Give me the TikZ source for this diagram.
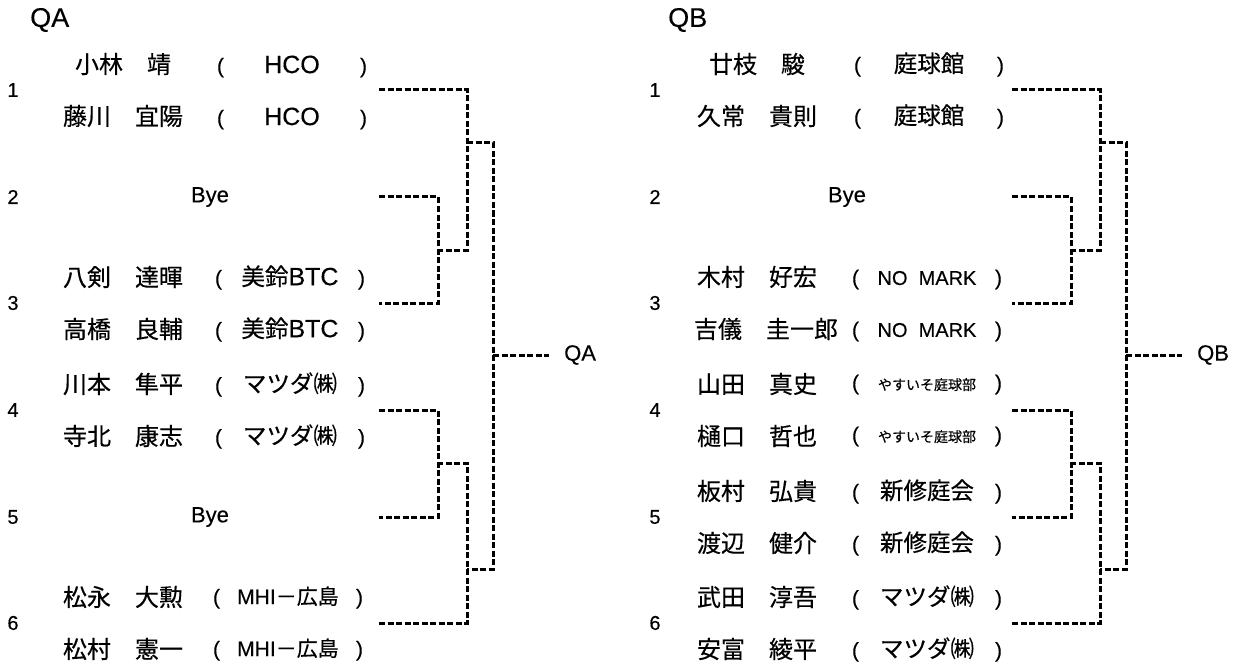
\documentclass[tikz,border=0pt]{standalone}
\usepackage{fontspec}
\setmainfont[FakeBold=0.3]{Liberation Sans}
\newfontfamily\jp[FakeBold=0.4]{Noto Sans CJK JP}
\newcommand\club[2][23.5]{\makebox[150pt][s]{\fontsize{21}{24}\selectfont(\hfill{\fontsize{#1}{26}\selectfont #2}\hfill)}}

\tikzset{
  bracket/.style={line width=3pt, dash pattern=on 6pt off 2.5pt},
  seednum/.style={font=\fontsize{20}{23}\selectfont, inner sep=0pt},
  player/.style={font=\jp\fontsize{24}{27}\selectfont, inner sep=0pt},
  clubbox/.style={inner sep=0pt, yshift=-0.5pt},
  byebox/.style={font=\fontsize{22}{25}\selectfont, inner sep=0pt},
  blocktitle/.style={font=\fontsize{27}{30}\selectfont, anchor=west, inner sep=0pt},
  winner/.style={font=\fontsize{22}{25}\selectfont, anchor=west, inner sep=0pt, inner xsep=15pt}
}

\begin{document}
\begin{tikzpicture}[x=1pt,y=-1pt]
\useasboundingbox (0,0) rectangle (1235,666);

% block QA
\node[blocktitle] (tA) at (30,20) {QA};
\node[seednum] (sA1) at (13,90) {1};
\node[seednum] (sA2) at (13,197) {2};
\node[seednum] (sA3) at (13,303) {3};
\node[seednum] (sA4) at (13,410) {4};
\node[seednum] (sA5) at (13,517) {5};
\node[seednum] (sA6) at (13,623) {6};

\node[player] (pA1a) at (123,64) {小林　靖};
\node[clubbox] (cA1a) at (292,66) {\club[25]{HCO}};
\node[player] (pA1b) at (123,116) {藤川　宜陽};
\node[clubbox] (cA1b) at (292,118) {\club[25]{HCO}};
\node[byebox] (bA2) at (210,197) {Bye};
\node[player] (pA3a) at (123,277) {八剣　達暉};
\node[clubbox] (cA3a) at (290,277) {\club{{\jp 美鈴}\fontsize{25}{26}\selectfont BTC}};
\node[player] (pA3b) at (123,329) {高橋　良輔};
\node[clubbox] (cA3b) at (290,329) {\club{{\jp 美鈴}\fontsize{25}{26}\selectfont BTC}};
\node[player] (pA4a) at (123,384) {川本　隼平};
\node[clubbox] (cA4a) at (290,384) {\club{\jp マツダ㈱}};
\node[player] (pA4b) at (123,436) {寺北　康志};
\node[clubbox] (cA4b) at (290,436) {\club{\jp マツダ㈱}};
\node[byebox] (bA5) at (210,517) {Bye};
\node[player] (pA6a) at (123,597) {松永　大勲};
\node[clubbox] (cA6a) at (288,597) {\club[21]{MHI{\jp －広島}}};
\node[player] (pA6b) at (123,649) {松村　憲一};
\node[clubbox] (cA6b) at (288,649) {\club[21]{MHI{\jp －広島}}};

\coordinate (eA1) at (379,90);
\coordinate (eA2) at (379,197);
\coordinate (eA3) at (379,303);
\coordinate (eA4) at (379,410);
\coordinate (eA5) at (379,517);
\coordinate (eA6) at (379,623);
\coordinate (jA23) at (438,250);
\coordinate (jA45) at (438,463);
\coordinate (jA123) at (467,143);
\coordinate (jA456) at (467,569);
\coordinate (jA) at (493,355);
\node[winner] (wA) at (549,355) {QA};

\draw[bracket] (eA2) -| (jA23) |- (eA3);
\draw[bracket] (eA1) -| (jA123) |- (jA23);
\draw[bracket] (eA4) -| (jA45) |- (eA5);
\draw[bracket] (eA6) -| (jA456) |- (jA45);
\draw[bracket] (jA123) -| (jA) |- (jA456);
\draw[bracket] (jA) -- (wA.west);

% block QB
\node[blocktitle] (tB) at (668,20) {QB};
\node[seednum] (sB1) at (655,90) {1};
\node[seednum] (sB2) at (655,197) {2};
\node[seednum] (sB3) at (655,303) {3};
\node[seednum] (sB4) at (655,410) {4};
\node[seednum] (sB5) at (655,517) {5};
\node[seednum] (sB6) at (655,623) {6};

\node[player] (pB1a) at (757,64) {廿枝　駿};
\node[clubbox] (cB1a) at (929,64) {\club{\jp 庭球館}};
\node[player] (pB1b) at (757,116) {久常　貴則};
\node[clubbox] (cB1b) at (929,116) {\club{\jp 庭球館}};
\node[byebox] (bB2) at (847,197) {Bye};
\node[player] (pB3a) at (757,277) {木村　好宏};
\node[clubbox] (cB3a) at (927,279) {\club[20]{NO\ \ MARK}};
\node[player] (pB3b) at (766,329) {吉儀　圭一郎};
\node[clubbox] (cB3b) at (927,331) {\club[20]{NO\ \ MARK}};
\node[player] (pB4a) at (757,384) {山田　真史};
\node[clubbox] (cB4a) at (927,384) {\club[14]{\jp やすいそ庭球部}};
\node[player] (pB4b) at (757,436) {樋口　哲也};
\node[clubbox] (cB4b) at (927,436) {\club[14]{\jp やすいそ庭球部}};
\node[player] (pB5a) at (757,491) {板村　弘貴};
\node[clubbox] (cB5a) at (927,491) {\club{\jp 新修庭会}};
\node[player] (pB5b) at (757,543) {渡辺　健介};
\node[clubbox] (cB5b) at (927,543) {\club{\jp 新修庭会}};
\node[player] (pB6a) at (757,597) {武田　淳吾};
\node[clubbox] (cB6a) at (927,597) {\club{\jp マツダ㈱}};
\node[player] (pB6b) at (757,649) {安富　綾平};
\node[clubbox] (cB6b) at (927,649) {\club{\jp マツダ㈱}};

\coordinate (eB1) at (1012,90);
\coordinate (eB2) at (1012,197);
\coordinate (eB3) at (1012,303);
\coordinate (eB4) at (1012,410);
\coordinate (eB5) at (1012,517);
\coordinate (eB6) at (1012,623);
\coordinate (jB23) at (1071,250);
\coordinate (jB45) at (1071,463);
\coordinate (jB123) at (1100,143);
\coordinate (jB456) at (1100,569);
\coordinate (jB) at (1126,355);
\node[winner] (wB) at (1182,355) {QB};

\draw[bracket] (eB2) -| (jB23) |- (eB3);
\draw[bracket] (eB1) -| (jB123) |- (jB23);
\draw[bracket] (eB4) -| (jB45) |- (eB5);
\draw[bracket] (eB6) -| (jB456) |- (jB45);
\draw[bracket] (jB123) -| (jB) |- (jB456);
\draw[bracket] (jB) -- (wB.west);

\end{tikzpicture}
\end{document}
